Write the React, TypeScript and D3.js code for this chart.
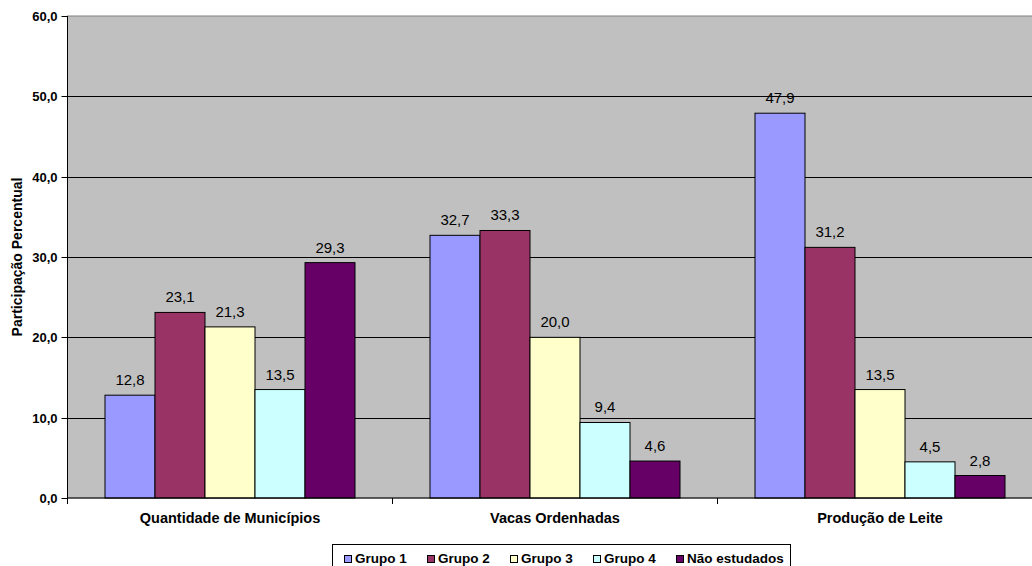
import React from "react";
import * as d3 from "d3";

const categories = ["Quantidade de Municípios", "Vacas Ordenhadas", "Produção de Leite"];
const seriesNames = ["Grupo 1", "Grupo 2", "Grupo 3", "Grupo 4", "Não estudados"];
const grupo1 = [12.8, 32.7, 47.9];
const grupo2 = [23.1, 33.3, 31.2];
const grupo3 = [21.3, 20.0, 13.5];
const grupo4 = [13.5, 9.4, 4.5];
const naoEstudados = [29.3, 4.6, 2.8];
const yTicks = [0, 10, 20, 30, 40, 50, 60];
const colors = ["#9999FF", "#993366", "#FFFFCC", "#CCFFFF", "#660066"];

const seriesValues = [grupo1, grupo2, grupo3, grupo4, naoEstudados];

const W = 1032, H = 566;
const L = 67.5, R = 1042.5, T = 16, B = 498;
const FONT = "'Liberation Sans', Arial, sans-serif";

const fmt = (v: number) => v.toFixed(1).replace(".", ",");

export default function App() {
  const y = d3.scaleLinear().domain([0, 60]).range([B, T]);
  const x0 = d3.scaleBand<string>().domain(categories).range([L, R]).paddingInner(0).paddingOuter(0);
  const bw = x0.bandwidth();
  const barWidth = bw / 6.5;
  const gap = (bw - barWidth * 5) / 2;

  const legendX = 332, legendY = 544;
  const step = 83;
  const firstMarker = 344;

  return (
    <svg width={W} height={H} style={{ position: "absolute", left: 0, top: 0, background: "#fff" }} fontFamily={FONT}>
      <rect x={L} y={T} width={R - L} height={B - T} fill="#C0C0C0" stroke="#808080" strokeWidth={1} />
      {yTicks.filter((t) => t > 0 && t < 60).map((t) => (
        <line key={t} x1={L} x2={R} y1={Math.round(y(t)) + 0.5} y2={Math.round(y(t)) + 0.5} stroke="#000" strokeWidth={1} />
      ))}
      {categories.map((c, ci) =>
        seriesValues.map((vals, si) => {
          const bx = (x0(c) as number) + gap + si * barWidth;
          const by = y(vals[ci]);
          return (
            <g key={c + si}>
              <rect x={bx} y={by} width={barWidth} height={B - by} fill={colors[si]} stroke="#000" strokeWidth={1} />
              <text x={bx + barWidth / 2} y={by - 10} textAnchor="middle" fontSize={15} fill="#000">{fmt(vals[ci])}</text>
            </g>
          );
        })
      )}
      <line x1={L} x2={L} y1={T} y2={B} stroke="#000" />
      <line x1={L} x2={R} y1={B} y2={B} stroke="#000" />
      {yTicks.map((t) => (
        <g key={t}>
          <line x1={L - 6} x2={L} y1={Math.round(y(t)) + 0.5} y2={Math.round(y(t)) + 0.5} stroke="#000" />
          <text x={L - 10} y={y(t) + 5} textAnchor="end" fontSize={13} fontWeight="bold">{fmt(t)}</text>
        </g>
      ))}
      {[...categories.map((c) => x0(c) as number), R].map((xx, i) => (
        <line key={i} x1={xx} x2={xx} y1={B} y2={B + 6} stroke="#000" />
      ))}
      {categories.map((c) => (
        <text key={c} x={(x0(c) as number) + bw / 2} y={523} textAnchor="middle" fontSize={14.5} fontWeight="bold">{c}</text>
      ))}
      <text transform={`translate(22,${(T + B) / 2}) rotate(-90)`} textAnchor="middle" fontSize={14} fontWeight="bold">Participação Percentual</text>
      <rect x={legendX + 0.5} y={legendY + 0.5} width={458} height={30} fill="#fff" stroke="#000" />
      {seriesNames.map((n, i) => {
        const mx = firstMarker + i * step;
        return (
          <g key={n}>
            <rect x={mx + 0.5} y={legendY + 11.5} width={7} height={7} fill={colors[i]} stroke="#000" />
            <text x={mx + 11} y={legendY + 19} fontSize={13.5} fontWeight="bold">{n}</text>
          </g>
        );
      })}
    </svg>
  );
}
